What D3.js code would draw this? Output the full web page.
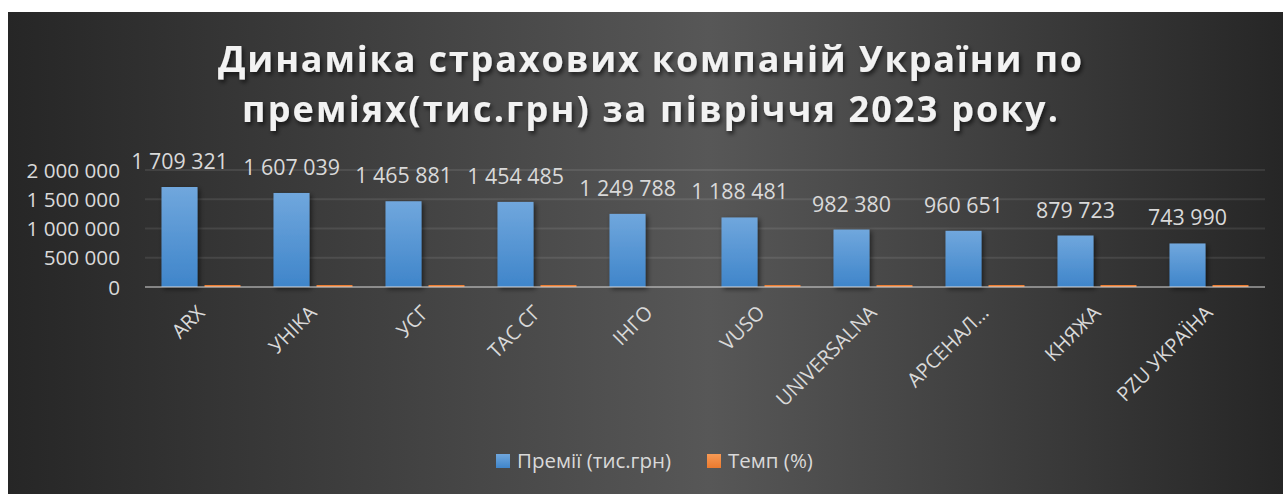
<!DOCTYPE html>
<html>
<head>
<meta charset="utf-8">
<script src="https://cdn.jsdelivr.net/npm/d3@7"></script>
<style>
  html, body { margin: 0; padding: 0; background: #ffffff; }
  svg { display: block; font-family: "Open Sans", "DejaVu Sans", sans-serif; }
</style>
</head>
<body>
<div id="chart"></div>
<script>
// Chart data
var companies = ["ARX", "УНІКА", "УСГ", "ТАС СГ", "ІНГО", "VUSO", "UNIVERSALNA", "АРСЕНАЛ…", "КНЯЖА", "PZU УКРАЇНА"];
var premiums = [1709321, 1607039, 1465881, 1454485, 1249788, 1188481, 982380, 960651, 879723, 743990];
// Темп (%) is too small to read at this scale, values are estimates (ІНГО shows no bar)
var tempo = [120, 115, 110, 118, 0, 125, 105, 112, 108, 104];
var seriesNames = ["Премії (тис.грн)", "Темп (%)"];
var yTicks = [0, 500000, 1000000, 1500000, 2000000];
var titleLines = ["Динаміка страхових компаній України по", "преміях(тис.грн) за півріччя 2023 року."];

// SVG area
var svgWidth = 1283;
var svgHeight = 494;

var svg = d3.select("#chart")
  .append("svg")
  .attr("width", svgWidth)
  .attr("height", svgHeight);

var defs = svg.append("defs");

// Background gradient (dark, lighter in the middle)
var bg = defs.append("linearGradient").attr("id", "bgGrad")
  .attr("x1", "0").attr("x2", "1").attr("y1", "0").attr("y2", "0");
bg.append("stop").attr("offset", "0").attr("stop-color", "#262626");
bg.append("stop").attr("offset", "0.55").attr("stop-color", "#575757");
bg.append("stop").attr("offset", "1").attr("stop-color", "#262626");

// Bar gradients
var blue = defs.append("linearGradient").attr("id", "blueGrad")
  .attr("x1", "0").attr("x2", "0").attr("y1", "0").attr("y2", "1");
blue.append("stop").attr("offset", "0").attr("stop-color", "#70a7dd");
blue.append("stop").attr("offset", "1").attr("stop-color", "#3f85ca");

var orange = defs.append("linearGradient").attr("id", "orangeGrad")
  .attr("x1", "0").attr("x2", "0").attr("y1", "0").attr("y2", "1");
orange.append("stop").attr("offset", "0").attr("stop-color", "#f79a55");
orange.append("stop").attr("offset", "1").attr("stop-color", "#ec7a2e");

// Shadows
var titleShadow = defs.append("filter").attr("id", "titleShadow")
  .attr("x", "-10%").attr("y", "-30%").attr("width", "120%").attr("height", "160%");
titleShadow.append("feDropShadow")
  .attr("dx", 2).attr("dy", 3).attr("stdDeviation", 2)
  .attr("flood-color", "#000").attr("flood-opacity", 0.6);

var barShadow = defs.append("filter").attr("id", "barShadow")
  .attr("x", "-30%").attr("y", "-10%").attr("width", "160%").attr("height", "130%");
barShadow.append("feDropShadow")
  .attr("dx", 2).attr("dy", 2).attr("stdDeviation", 2.5)
  .attr("flood-color", "#000").attr("flood-opacity", 0.55);

// Panel
svg.append("rect")
  .attr("x", 8).attr("y", 12)
  .attr("width", svgWidth - 8).attr("height", svgHeight - 12)
  .attr("fill", "url(#bgGrad)");

// Title
var title = svg.append("g").attr("filter", "url(#titleShadow)");
title.selectAll("text")
  .data(titleLines)
  .enter()
  .append("text")
  .attr("x", (d, i) => i === 0 ? 218 : 242)
  .attr("y", (d, i) => 72 + i * 50)
  .attr("textLength", (d, i) => i === 0 ? 864 : 816)
  .attr("lengthAdjust", "spacing")
  .attr("font-size", 36)
  .attr("font-weight", "bold")
  .attr("fill", "#f2f2f2")
  .text(d => d);

// Scales
var plotLeft = 145, plotRight = 1265;
var x0 = d3.scaleBand()
  .domain(companies)
  .range([plotLeft, plotRight])
  .padding(0);

var x1 = d3.scaleBand()
  .domain(seriesNames)
  .range([0, x0.bandwidth()])
  .paddingInner(0.163)
  .paddingOuter(0.384);

var y = d3.scaleLinear()
  .domain([0, 2000000])
  .range([287, 170]);

var fmt = d3.formatLocale({ decimal: ",", thousands: " ", grouping: [3], currency: ["", ""] }).format(",d");

// Gridlines
svg.append("g")
  .selectAll("line")
  .data(yTicks.slice(1))
  .enter()
  .append("line")
  .attr("x1", plotLeft).attr("x2", plotRight)
  .attr("y1", d => y(d)).attr("y2", d => y(d))
  .attr("stroke", "#ffffff")
  .attr("stroke-opacity", 0.09)
  .attr("stroke-width", 2);

// Y axis labels
var yAxis = svg.append("g")
  .attr("transform", "translate(120,0)")
  .call(d3.axisLeft(y).tickValues(yTicks).tickSize(0).tickPadding(0).tickFormat(fmt));
yAxis.select(".domain").remove();
yAxis.selectAll("text")
  .attr("font-size", 20.7)
  .attr("font-family", "Open Sans, sans-serif")
  .attr("fill", "#d9d9d9")
  .attr("dy", "0.34em");

// Bars
var groups = svg.append("g")
  .selectAll("g")
  .data(companies)
  .enter()
  .append("g")
  .attr("transform", d => `translate(${x0(d)},0)`);

groups.append("rect")
  .attr("filter", "url(#barShadow)")
  .attr("x", x1(seriesNames[0]))
  .attr("width", x1.bandwidth())
  .attr("y", (d, i) => y(premiums[i]))
  .attr("height", (d, i) => y(0) - y(premiums[i]))
  .attr("fill", "url(#blueGrad)");

groups.append("rect")
  .attr("x", x1(seriesNames[1]))
  .attr("width", x1.bandwidth())
  .attr("y", (d, i) => y(0) - (tempo[i] > 0 ? Math.max(2, y(0) - y(tempo[i])) : 0))
  .attr("height", (d, i) => tempo[i] > 0 ? Math.max(2, y(0) - y(tempo[i])) : 0)
  .attr("fill", "#ed7d31");

// Value labels
groups.append("text")
  .attr("x", x1(seriesNames[0]) + x1.bandwidth() / 2)
  .attr("y", (d, i) => y(premiums[i]) - 18)
  .attr("text-anchor", "middle")
  .attr("font-size", 21.4)
  .attr("fill", "#d9d9d9")
  .text((d, i) => fmt(premiums[i]));

// X axis line
svg.append("line")
  .attr("x1", plotLeft).attr("x2", plotRight)
  .attr("y1", y(0)).attr("y2", y(0))
  .attr("stroke", "#d9d9d9")
  .attr("stroke-opacity", 0.5)
  .attr("stroke-width", 2);

// Category labels
svg.append("g")
  .selectAll("text")
  .data(companies)
  .enter()
  .append("text")
  .attr("transform", d => `translate(${x0(d) + x0.bandwidth() / 2 + 5},314) rotate(-45)`)
  .attr("text-anchor", "end")
  .attr("font-size", 20)
  .attr("fill", "#d9d9d9")
  .text(d => d);

// Legend
var legendItems = [
  { name: seriesNames[0], fill: "url(#blueGrad)", x: 496 },
  { name: seriesNames[1], fill: "url(#orangeGrad)", x: 707 }
];
var legend = svg.append("g")
  .selectAll("g")
  .data(legendItems)
  .enter()
  .append("g")
  .attr("transform", d => `translate(${d.x},454)`);

legend.append("rect")
  .attr("width", 14).attr("height", 14)
  .attr("fill", d => d.fill);

legend.append("text")
  .attr("x", 21)
  .attr("y", 14)
  .attr("font-size", 20.5)
  .attr("fill", "#d9d9d9")
  .text(d => d.name);
</script>
</body>
</html>
